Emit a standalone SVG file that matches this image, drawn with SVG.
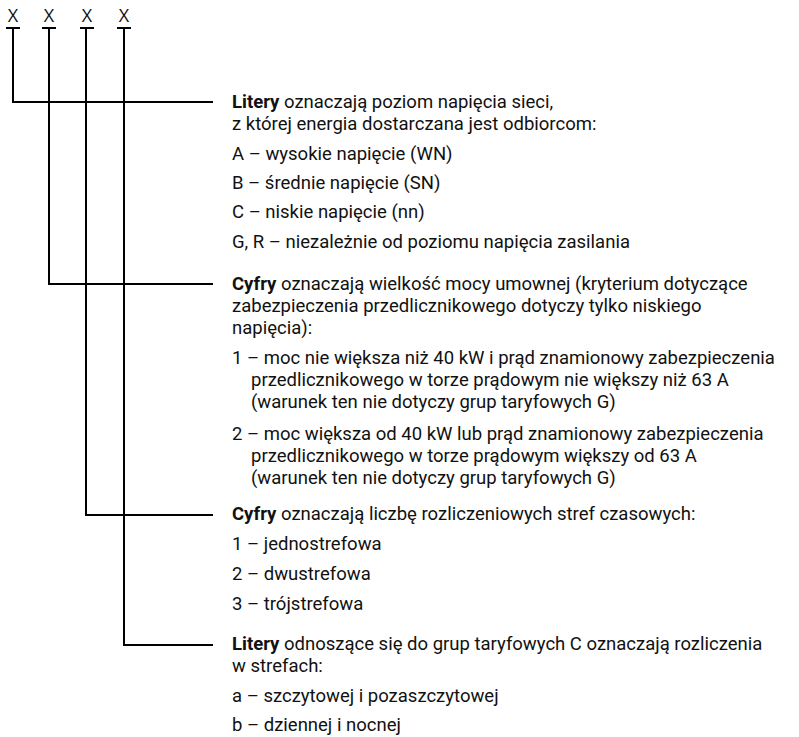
<svg xmlns="http://www.w3.org/2000/svg" width="799" height="737" viewBox="0 0 799 737">
<style>
text{font-family:Roboto,"Open Sans",sans-serif;font-size:18.5px;fill:#111}
.x{font-family:"Open Sans",sans-serif;font-size:18px}
.b{font-weight:bold}
.ln{stroke:#000;stroke-width:2;fill:none}
</style>
<rect width="799" height="737" fill="#fff"/>
<g id="connectors">
<path class="ln" d="M6 28H20M42 28H56M80 28H94M117 28H131"/>
<path class="ln" d="M13 28V102H213"/>
<path class="ln" d="M49 28V284H213"/>
<path class="ln" d="M86 28V515H213"/>
<path class="ln" d="M124 28V645H213"/>
</g>
<g id="header">
<text class="x" x="13" y="22" text-anchor="middle">X</text>
<text class="x" x="49" y="22" text-anchor="middle">X</text>
<text class="x" x="87" y="22" text-anchor="middle">X</text>
<text class="x" x="124" y="22" text-anchor="middle">X</text>
</g>
<g id="node1">
<text x="232" y="108"><tspan class="b">Litery</tspan> oznaczają poziom napięcia sieci,</text>
<text x="232" y="130">z której energia dostarczana jest odbiorcom:</text>
<text x="232" y="160">A – wysokie napięcie (WN)</text>
<text x="232" y="189">B – średnie napięcie (SN)</text>
<text x="232" y="218">C – niskie napięcie (nn)</text>
<text x="232" y="248">G, R – niezależnie od poziomu napięcia zasilania</text>
</g>
<g id="node2">
<text x="232" y="290"><tspan class="b">Cyfry</tspan> oznaczają wielkość mocy umownej (kryterium dotyczące</text>
<text x="232" y="312">zabezpieczenia przedlicznikowego dotyczy tylko niskiego</text>
<text x="232" y="334">napięcia):</text>
<text x="232" y="364">1 – moc nie większa niż 40 kW i prąd znamionowy zabezpieczenia</text>
<text x="251" y="386">przedlicznikowego w torze prądowym nie większy niż 63 A</text>
<text x="251" y="408">(warunek ten nie dotyczy grup taryfowych G)</text>
<text x="232" y="440">2 – moc większa od 40 kW lub prąd znamionowy zabezpieczenia</text>
<text x="251" y="462">przedlicznikowego w torze prądowym większy od 63 A</text>
<text x="251" y="484">(warunek ten nie dotyczy grup taryfowych G)</text>
</g>
<g id="node3">
<text x="232" y="520"><tspan class="b">Cyfry</tspan> oznaczają liczbę rozliczeniowych stref czasowych:</text>
<text x="232" y="550">1 – jednostrefowa</text>
<text x="232" y="580">2 – dwustrefowa</text>
<text x="232" y="610">3 – trójstrefowa</text>
</g>
<g id="node4">
<text x="232" y="650"><tspan class="b">Litery</tspan> odnoszące się do grup taryfowych C oznaczają rozliczenia</text>
<text x="232" y="672">w strefach:</text>
<text x="232" y="702">a – szczytowej i pozaszczytowej</text>
<text x="232" y="731">b – dziennej i nocnej</text>
</g>
</svg>
